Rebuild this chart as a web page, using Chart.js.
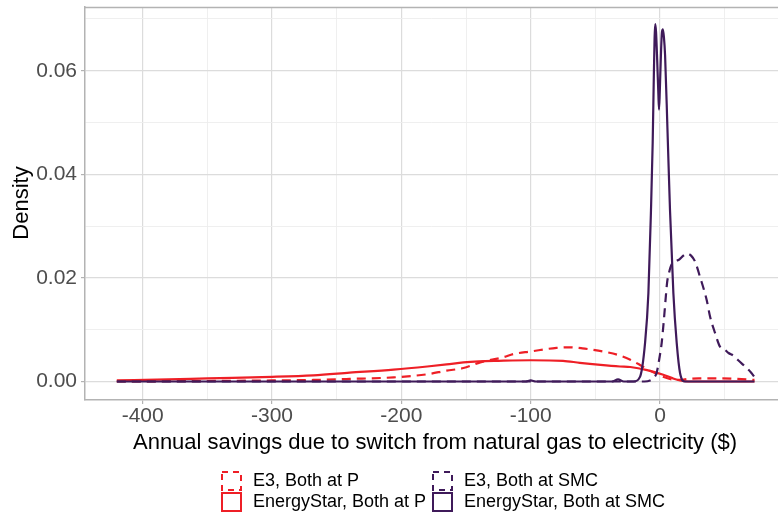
<!DOCTYPE html>
<html>
<head>
<meta charset="utf-8">
<script src="https://cdn.jsdelivr.net/npm/chart.js@4"></script>
<style>
  html, body { margin: 0; padding: 0; background: #ffffff; overflow: hidden; }
  #c { display: block; }
</style>
</head>
<body>
<canvas id="c" width="778" height="523"></canvas>
<script>
// ---------------- data ----------------
const xMajorTicks = [-400, -300, -200, -100, 0];
const xTickLabels = ['-400', '-300', '-200', '-100', '0'];
const xMinorTicks = [-350, -250, -150, -50, 50];
const yMajorTicks = [0, 0.02, 0.04, 0.06];
const yTickLabels = ['0.00', '0.02', '0.04', '0.06'];
const yMinorTicks = [0.01, 0.03, 0.05, 0.07];

const seriesNames = ['E3, Both at P', 'EnergyStar, Both at P', 'E3, Both at SMC', 'EnergyStar, Both at SMC'];

// E3, Both at P (red dashed)
const e3P_x = [-420, -350, -300, -268, -240, -206, -180, -165, -152, -139, -121, -113.5, -100, -80, -70, -60, -49, -40, -31, -23, -15.5, -8, -2.6, 2.3, 9, 15.5, 22, 30, 46, 60, 73];
const e3P_y = [0, 0.0001, 0.0002, 0.0003, 0.0005, 0.0008, 0.0014, 0.0021, 0.0026, 0.0037, 0.0047, 0.0053, 0.0058, 0.0065, 0.0066, 0.0064, 0.006, 0.0056, 0.005, 0.0042, 0.0032, 0.0021, 0.0015, 0.0009, 0.0004, 0.0003, 0.0005, 0.0006, 0.0006, 0.0005, 0.0003];

// EnergyStar, Both at P (red solid)
const esP_x = [-420, -380, -350, -300, -268, -240, -206, -180, -165, -152, -140, -125, -100, -75, -62, -46, -31, -23, -10, 2.5, 10, 15.5, 22, 73];
const esP_y = [0.0002, 0.0004, 0.0006, 0.0009, 0.0012, 0.0017, 0.0023, 0.0029, 0.0033, 0.0037, 0.0039, 0.004, 0.0041, 0.004, 0.0036, 0.0032, 0.0029, 0.0028, 0.0022, 0.0013, 0.0006, 0.0002, 0, 0];

// E3, Both at SMC (purple dashed)
const e3S_x = [-420, -12, -7.7, -4.5, -2.6, -0.5, 1.3, 3, 4.5, 5.5, 6.5, 8, 9.5, 12, 15, 18, 21, 24, 27, 30.9, 36.1, 38.7, 42.5, 46.4, 50.3, 53, 56.7, 60, 64.4, 67.1, 70.5, 73.5];
const e3S_y = [0, 0, 0.0002, 0.0008, 0.0017, 0.0045, 0.0075, 0.012, 0.0165, 0.0192, 0.0205, 0.022, 0.0228, 0.0232, 0.0236, 0.0243, 0.0247, 0.0243, 0.0232, 0.0202, 0.0157, 0.0125, 0.0094, 0.0067, 0.0061, 0.0055, 0.005, 0.0042, 0.0032, 0.0026, 0.0017, 0.0007];

// EnergyStar, Both at SMC (purple solid)
const esS_x = [-420, -104, -100, -96, -37, -32.5, -28, -20.6, -15.5, -11.6, -9, -7, -5.7, -4.8, -4.2, -3.7, -3.1, -2.2, -1.3, -0.8, -0.2, 0.8, 1.5, 2.2, 3, 3.9, 5.7, 7.7, 10.3, 12.9, 15.5, 19.3, 73];
const esS_y = [0, 0, 0.0002, 0, 0, 0.0004, 0, 0, 0.0009, 0.0074, 0.0171, 0.0331, 0.046, 0.059, 0.0665, 0.069, 0.0675, 0.062, 0.0555, 0.0525, 0.056, 0.064, 0.0675, 0.068, 0.0665, 0.063, 0.049, 0.0331, 0.0171, 0.0074, 0.0016, 0, 0];

// ---------------- styling ----------------
const RED = '#ee1f26';
const PURPLE = '#3f1a5a';
const FONT = '"Liberation Sans", Arial, Helvetica, sans-serif';
const X_MIN = -444.6, X_MAX = 91.2;
const Y_MIN = -0.00357, Y_MAX = 0.0723;

function pts(xs, ys) { return xs.map((x, i) => ({ x: x, y: ys[i] })); }
function near(list, v, eps) { return list.some(t => Math.abs(t - v) < eps); }

const datasets = [
  { label: seriesNames[3], data: pts(esS_x, esS_y), borderColor: PURPLE, borderWidth: 2.2, borderDash: [] },
  { label: seriesNames[2], data: pts(e3S_x, e3S_y), borderColor: PURPLE, borderWidth: 2.2, borderDash: [9, 6] },
  { label: seriesNames[1], data: pts(esP_x, esP_y), borderColor: RED, borderWidth: 2.2, borderDash: [] },
  { label: seriesNames[0], data: pts(e3P_x, e3P_y), borderColor: RED, borderWidth: 2.2, borderDash: [9, 6] }
];

const legendItems = [
  { text: seriesNames[0], color: RED, dash: [6, 5], col: 0, row: 0 },
  { text: seriesNames[1], color: RED, dash: [], col: 0, row: 1 },
  { text: seriesNames[2], color: PURPLE, dash: [6, 5], col: 1, row: 0 },
  { text: seriesNames[3], color: PURPLE, dash: [], col: 1, row: 1 }
];

const decorPlugin = {
  id: 'decor',
  beforeDatasetsDraw(chart) {
    const { ctx, chartArea } = chart;
    ctx.save();
    ctx.strokeStyle = '#b3b3b3';
    ctx.lineWidth = 1.5;
    ctx.beginPath();
    ctx.moveTo(chartArea.left, chartArea.top + 0.5);
    ctx.lineTo(chartArea.right, chartArea.top + 0.5);
    ctx.stroke();
    ctx.restore();
  },
  afterDraw(chart) {
    const { ctx } = chart;
    ctx.save();
    // axis titles
    ctx.fillStyle = '#000000';
    ctx.font = '22px ' + FONT;
    ctx.textAlign = 'center';
    ctx.textBaseline = 'alphabetic';
    ctx.fillText('Annual savings due to switch from natural gas to electricity ($)', 435, 449);
    ctx.save();
    ctx.translate(28, 203);
    ctx.rotate(-Math.PI / 2);
    ctx.fillText('Density', 0, 0);
    ctx.restore();
    // legend
    const colX = [222, 433];
    const rowY = [472, 493];
    ctx.font = '18px ' + FONT;
    ctx.textAlign = 'left';
    ctx.textBaseline = 'middle';
    legendItems.forEach(it => {
      const bx = colX[it.col], by = rowY[it.row];
      ctx.save();
      ctx.strokeStyle = it.color;
      ctx.lineWidth = 2;
      ctx.setLineDash(it.dash);
      ctx.strokeRect(bx, by, 19, 18);
      ctx.restore();
      ctx.fillStyle = '#000000';
      ctx.fillText(it.text, bx + 31, by + 9.5);
    });
    ctx.restore();
  }
};

new Chart(document.getElementById('c'), {
  type: 'line',
  data: { datasets: datasets },
  plugins: [decorPlugin],
  options: {
    responsive: false,
    animation: false,
    layout: { padding: { top: 7, left: 0, right: 0, bottom: 0 } },
    plugins: { legend: { display: false }, tooltip: { enabled: false } },
    elements: {
      point: { radius: 0, hoverRadius: 0 },
      line: { cubicInterpolationMode: 'monotone', fill: false, borderCapStyle: 'butt', borderJoinStyle: 'round' }
    },
    scales: {
      x: {
        type: 'linear', min: X_MIN, max: X_MAX,
        afterBuildTicks: s => { s.ticks = xMajorTicks.concat(xMinorTicks).sort((a, b) => a - b).map(v => ({ value: v })); },
        afterFit: s => { s.height = 123; s.paddingLeft = 0; s.paddingRight = 0; },
        ticks: {
          autoSkip: false, maxRotation: 0, padding: 0,
          color: '#4d4d4d', font: { size: 21, family: FONT },
          callback: v => { const i = xMajorTicks.findIndex(t => Math.abs(t - v) < 1e-6); return i >= 0 ? xTickLabels[i] : ''; }
        },
        grid: {
          color: c => near(xMajorTicks, c.tick.value, 1e-6) ? '#dcdcdc' : '#ededed',
          lineWidth: c => near(xMajorTicks, c.tick.value, 1e-6) ? 1.2 : 0.9,
          tickColor: c => near(xMajorTicks, c.tick.value, 1e-6) ? '#b3b3b3' : 'rgba(0,0,0,0)',
          tickLength: 4, tickWidth: 1.2
        },
        border: { display: true, color: '#b3b3b3', width: 1.5 }
      },
      y: {
        type: 'linear', min: Y_MIN, max: Y_MAX,
        afterBuildTicks: s => { s.ticks = yMajorTicks.concat(yMinorTicks).sort((a, b) => a - b).map(v => ({ value: v })); },
        afterFit: s => { s.width = 85; s.paddingTop = 0; s.paddingBottom = 0; },
        ticks: {
          autoSkip: false, padding: 4,
          color: '#4d4d4d', font: { size: 21, family: FONT },
          callback: v => { const i = yMajorTicks.findIndex(t => Math.abs(t - v) < 1e-9); return i >= 0 ? yTickLabels[i] : ''; }
        },
        grid: {
          color: c => near(yMajorTicks, c.tick.value, 1e-9) ? '#dcdcdc' : '#ededed',
          lineWidth: c => near(yMajorTicks, c.tick.value, 1e-9) ? 1.2 : 0.9,
          tickColor: c => near(yMajorTicks, c.tick.value, 1e-9) ? '#b3b3b3' : 'rgba(0,0,0,0)',
          tickLength: 4, tickWidth: 1.2
        },
        border: { display: true, color: '#b3b3b3', width: 1.5 }
      }
    }
  }
});
</script>
</body>
</html>
